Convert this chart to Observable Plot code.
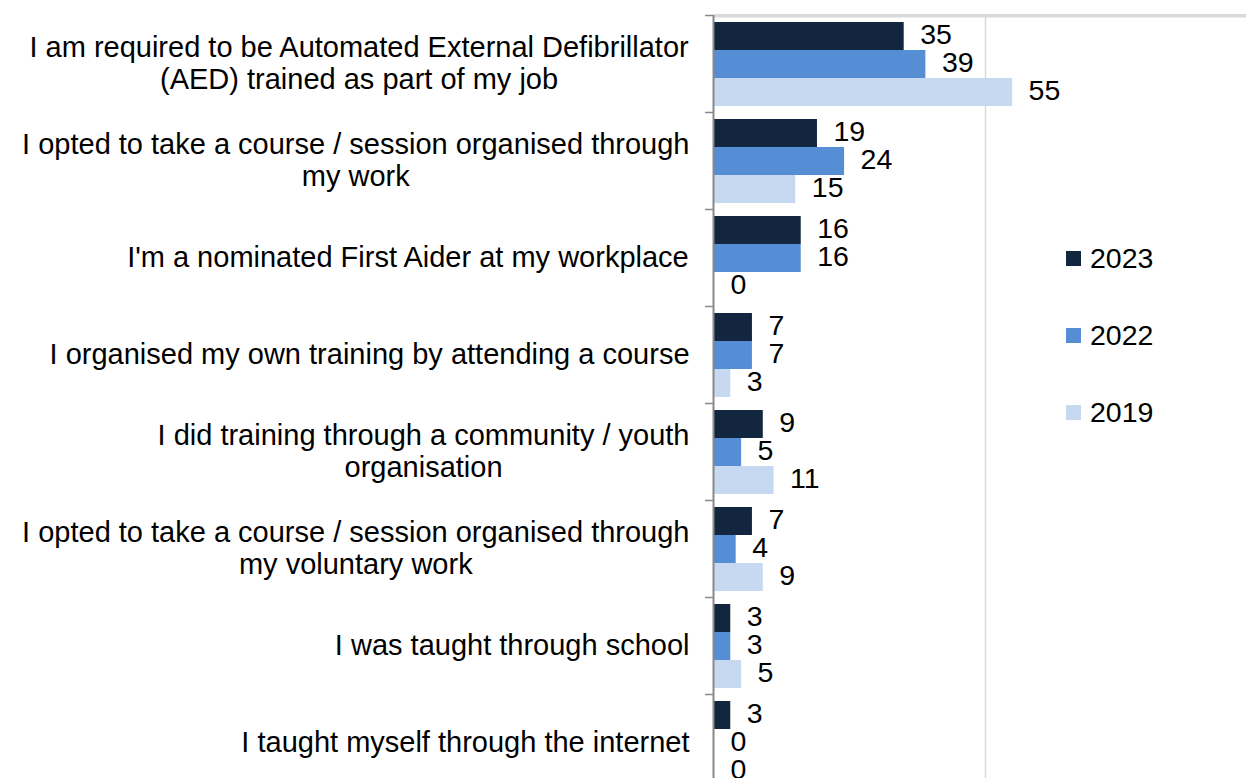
<!DOCTYPE html>
<html>
<head>
<meta charset="utf-8">
<script src="https://cdn.jsdelivr.net/npm/d3@7"></script>
<script src="https://cdn.jsdelivr.net/npm/@observablehq/plot@0.6"></script>
<style>
  html, body { margin: 0; padding: 0; background: #fff; overflow: hidden; }
  #wrap { position: relative; width: 1246px; height: 778px; overflow: hidden; }
  #chart { width: 1260px; }
  #chart svg { max-width: none !important; }
  #legend { position: absolute; left: 1066px; top: 0; font-family: "Liberation Sans", Arial, sans-serif; font-size: 28.5px; color: #000; }
  .item { position: absolute; left: 0; display: flex; align-items: center; white-space: nowrap; height: 30px; }
  .sw { width: 15px; height: 15px; margin-right: 9px; }
</style>
</head>
<body>
<div id="wrap"><div id="chart"></div><div id="legend"></div></div>
<script>
const categories = [
  "I am required to be Automated External Defibrillator\n(AED) trained as part of my job",
  "I opted to take a course / session organised through\nmy work",
  "I'm a nominated First Aider at my workplace",
  "I organised my own training by attending a course",
  "I did training through a community / youth\norganisation",
  "I opted to take a course / session organised through\nmy voluntary work",
  "I was taught through school",
  "I taught myself through the internet"
];
const seriesNames = ["2023", "2022", "2019"];
const values2023 = [35, 19, 16, 7, 9, 7, 3, 3];
const values2022 = [39, 24, 16, 7, 5, 4, 3, 0];
const values2019 = [55, 15, 0, 3, 11, 9, 5, 0];
const colors = ["#132640", "#558ED5", "#C6D9F1"];

const seriesValues = [values2023, values2022, values2019];
const rows = [];
categories.forEach((cat, i) => {
  seriesNames.forEach((s, j) => rows.push({cat, series: s, value: seriesValues[j][i]}));
});

const FONT = "'Liberation Sans', Arial, sans-serif";
const LABEL_SIZE = 29;
const canvas = document.createElement("canvas");
const ctx = canvas.getContext("2d");
ctx.font = `${LABEL_SIZE}px ${FONT}`;
function blockWidth(t) { return Math.max(...t.split("\n").map(l => ctx.measureText(l).width)); }

const labelMarks = categories.map(cat => Plot.text([cat], {
  fy: d => d, text: d => d, frameAnchor: "left", textAnchor: "middle",
  dx: -(25 + blockWidth(cat) / 2), dy: -1.5, lineHeight: 1.1, fontSize: LABEL_SIZE, fill: "#000"
}));

const chart = Plot.plot({
  width: 1260, height: 800,
  marginLeft: 714, marginRight: 4, marginTop: 15, marginBottom: 9,
  style: {fontFamily: FONT, background: "transparent", overflow: "visible", maxWidth: "none"},
  x: {domain: [0, 100], axis: null},
  y: {domain: seriesNames, padding: 0, axis: null},
  fy: {domain: categories, paddingInner: 0.12, paddingOuter: 0.06, axis: null},
  color: {domain: seriesNames, range: colors},
  marks: [
    Plot.ruleX([50], {stroke: "#d9d9d9", strokeWidth: 1.5, insetTop: -6, insetBottom: -6}),
    Plot.barX([{cat: categories[0]}], {fy: "cat", y: () => "2023", x1: () => 0, x2: () => 100,
      fill: "#d9d9d9", insetTop: -8, insetBottom: 32.5}),
    Plot.barX(rows, {fy: "cat", y: "series", x: "value", fill: "series"}),
    Plot.text(rows, {fy: "cat", y: "series", x: "value", text: d => String(d.value),
      textAnchor: "start", dx: 16, dy: -1.5, fontSize: 28.5, fill: "#000"}),
    Plot.ruleX([0], {stroke: "#898989", strokeWidth: 2, dx: -1, insetTop: -6, insetBottom: -6}),
    Plot.axisFy({anchor: "left", tickSize: 9, tickFormat: () => "", dy: -48.5,
      stroke: "#898989", strokeWidth: 1.5, label: null}),
    ...labelMarks
  ]
});
document.getElementById("chart").appendChild(chart);

const legend = document.getElementById("legend");
const legendTops = [243, 320, 397];
seriesNames.forEach((s, i) => {
  const it = document.createElement("div");
  it.className = "item";
  it.style.top = legendTops[i] + "px";
  it.innerHTML = `<div class="sw" style="background:${colors[i]}"></div><span>${s}</span>`;
  legend.appendChild(it);
});
</script>
</body>
</html>
